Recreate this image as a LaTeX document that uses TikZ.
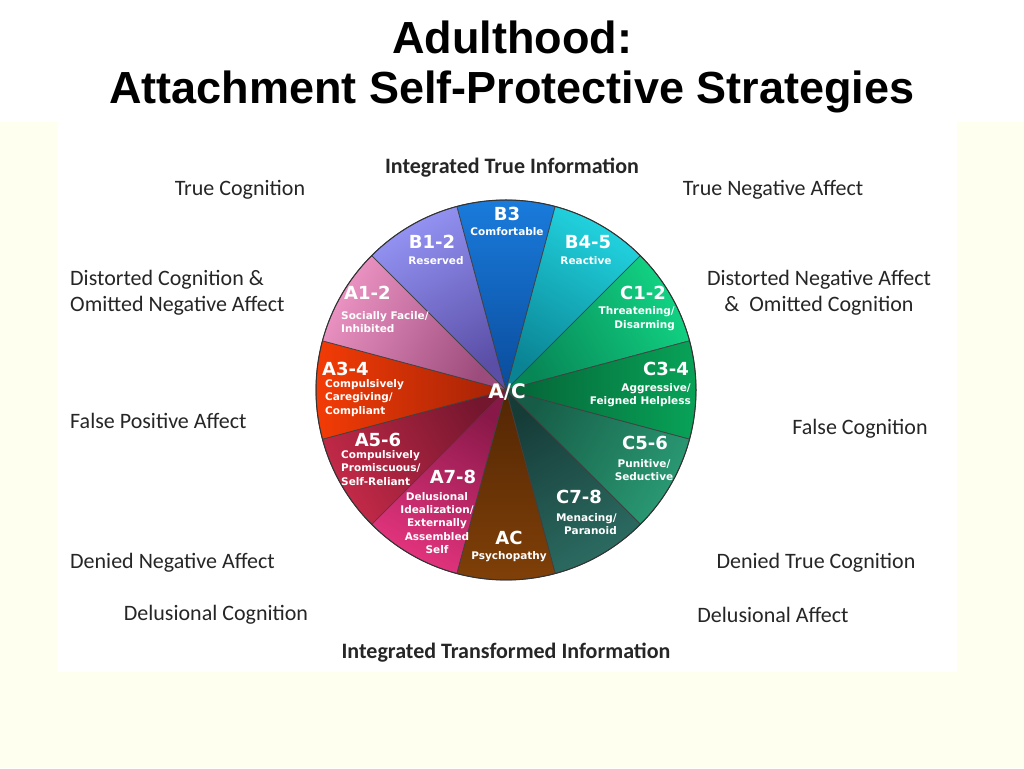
\documentclass[tikz,border=0pt]{standalone}
\usepackage{fontspec}
\setmainfont{Carlito}
\newfontfamily\titlefont{Liberation Sans}
\newfontfamily\piefont{DejaVu Sans}

\definecolor{cream}{HTML}{FFFFF0}
\definecolor{txtgray}{HTML}{262626}
\definecolor{bthreerim}{HTML}{1A7CDC}
\definecolor{bthreemid}{HTML}{0A4C9C}
\definecolor{bfourrim}{HTML}{22D4E0}
\definecolor{bfourmid}{HTML}{0A8494}
\definecolor{conerim}{HTML}{12D484}
\definecolor{conemid}{HTML}{078656}
\definecolor{cthreerim}{HTML}{08A458}
\definecolor{cthreemid}{HTML}{056236}
\definecolor{cfiverim}{HTML}{2A9A74}
\definecolor{cfivemid}{HTML}{165C46}
\definecolor{csevenrim}{HTML}{2C6C62}
\definecolor{csevenmid}{HTML}{163C38}
\definecolor{acrim}{HTML}{804008}
\definecolor{acmid}{HTML}{522604}
\definecolor{asevenrim}{HTML}{E4347E}
\definecolor{asevenmid}{HTML}{881848}
\definecolor{afiverim}{HTML}{C42A48}
\definecolor{afivemid}{HTML}{74162E}
\definecolor{athreerim}{HTML}{F43C06}
\definecolor{athreemid}{HTML}{A22206}
\definecolor{aonerim}{HTML}{EC94C4}
\definecolor{aonemid}{HTML}{9C4C7C}
\definecolor{bonerim}{HTML}{9494F4}
\definecolor{bonemid}{HTML}{5A4EA6}

\begin{document}
\begin{tikzpicture}[x=1pt, y=1pt,
  outer/.style={inner sep=0pt, text=txtgray, font=\fontsize{22}{26}\selectfont},
  bigname/.style={inner sep=0pt, text=white, font=\piefont\bfseries\fontsize{18}{18}\selectfont},
  smalltext/.style={inner sep=0pt, text=white, font=\piefont\bfseries\fontsize{10.5}{13.3}\selectfont},
  wedge/.style={draw=black!75, line width=0.7pt}]

\useasboundingbox (0,0) rectangle (1024,768);
\fill[cream] (0,0) rectangle (1024,646);
\fill[white] (58,96) rectangle (957,646);

\node[inner sep=0pt, font=\titlefont\bfseries\fontsize{45}{55}\selectfont] (title1) at (512,731) {Adulthood:};
\node[inner sep=0pt, font=\titlefont\bfseries\fontsize{45}{55}\selectfont] (title2) at (512,676) {Attachment Self-Protective Strategies};

\coordinate (c) at (506,378);

\shade[wedge, top color=bthreerim, bottom color=bthreemid, shading angle=0] (c) -- ++(75:190) arc[start angle=75, end angle=105, radius=190pt] -- cycle;
\shade[wedge, top color=bfourrim, bottom color=bfourmid, shading angle=-30] (c) -- ++(45:190) arc[start angle=45, end angle=75, radius=190pt] -- cycle;
\shade[wedge, top color=conerim, bottom color=conemid, shading angle=-60] (c) -- ++(15:190) arc[start angle=15, end angle=45, radius=190pt] -- cycle;
\shade[wedge, top color=cthreerim, bottom color=cthreemid, shading angle=-90] (c) -- ++(-15:190) arc[start angle=-15, end angle=15, radius=190pt] -- cycle;
\shade[wedge, top color=cfiverim, bottom color=cfivemid, shading angle=-120] (c) -- ++(-45:190) arc[start angle=-45, end angle=-15, radius=190pt] -- cycle;
\shade[wedge, top color=csevenrim, bottom color=csevenmid, shading angle=-150] (c) -- ++(-75:190) arc[start angle=-75, end angle=-45, radius=190pt] -- cycle;
\shade[wedge, top color=acrim, bottom color=acmid, shading angle=180] (c) -- ++(-105:190) arc[start angle=-105, end angle=-75, radius=190pt] -- cycle;
\shade[wedge, top color=asevenrim, bottom color=asevenmid, shading angle=150] (c) -- ++(225:190) arc[start angle=225, end angle=255, radius=190pt] -- cycle;
\shade[wedge, top color=afiverim, bottom color=afivemid, shading angle=120] (c) -- ++(195:190) arc[start angle=195, end angle=225, radius=190pt] -- cycle;
\shade[wedge, top color=athreerim, bottom color=athreemid, shading angle=90] (c) -- ++(165:190) arc[start angle=165, end angle=195, radius=190pt] -- cycle;
\shade[wedge, top color=aonerim, bottom color=aonemid, shading angle=60] (c) -- ++(135:190) arc[start angle=135, end angle=165, radius=190pt] -- cycle;
\shade[wedge, top color=bonerim, bottom color=bonemid, shading angle=30] (c) -- ++(105:190) arc[start angle=105, end angle=135, radius=190pt] -- cycle;
\draw[black!80, line width=1pt] (c) circle[radius=190pt];

\node[bigname] (b3) at (507,554) {B3};
\node[smalltext] (b3t) at (507,536) {Comfortable};
\node[bigname] (b12) at (432,526) {B1-2};
\node[smalltext] (b12t) at (436,507) {Reserved};
\node[bigname] (b45) at (588,526) {B4-5};
\node[smalltext] (b45t) at (586,507) {Reactive};
\node[bigname, anchor=west] (a12) at (344,475) {A1-2};
\node[smalltext, anchor=west, align=left] (a12t) at (341,446) {Socially Facile/\\Inhibited};
\node[bigname, anchor=east] (c12) at (666,475) {C1-2};
\node[smalltext, anchor=east, align=right] (c12t) at (675,449.5) {Threatening/\\Disarming};
\node[bigname, anchor=west] (a34) at (322,399) {A3-4};
\node[smalltext, anchor=west, align=left] (a34t) at (325,370) {Compulsively\\Caregiving/\\Compliant};
\node[bigname, anchor=east] (c34) at (689,399) {C3-4};
\node[smalltext, anchor=east, align=right] (c34t) at (691,373) {Aggressive/\\Feigned Helpless};
\node[bigname, font=\piefont\bfseries\fontsize{20}{20}\selectfont] (ac0) at (507,376) {A/C};
\node[bigname] (a56) at (378,328) {A5-6};
\node[smalltext, anchor=west, align=left] (a56t) at (341,300) {Compulsively\\Promiscuous/\\Self-Reliant};
\node[bigname] (c56) at (645,325) {C5-6};
\node[smalltext, align=center] (c56t) at (644,298) {Punitive/\\Seductive};
\node[bigname] (a78) at (453,291) {A7-8};
\node[smalltext, align=center] (a78t) at (437,245) {Delusional\\Idealization/\\Externally\\Assembled\\Self};
\node[bigname] (c78) at (579,271) {C7-8};
\node[smalltext, anchor=east, align=right] (c78t) at (617,244) {Menacing/\\Paranoid};
\node[bigname] (acx) at (509,230) {AC};
\node[smalltext] (acxt) at (509,211) {Psychopathy};

\node[outer, font=\bfseries\fontsize{22}{26}\selectfont] (iti) at (512,600) {Integrated True Information};
\node[outer] (tc) at (240,578) {True Cognition};
\node[outer] (tna) at (773,578) {True Negative Affect};
\node[outer, anchor=west, align=left] (dc) at (70,475) {Distorted Cognition \&\\Omitted Negative Affect};
\node[outer, align=center] (dna) at (819,475) {Distorted Negative Affect\\\&~~Omitted Cognition};
\node[outer, anchor=west] (fpa) at (70,347) {False Positive Affect};
\node[outer] (fc) at (860,339) {False Cognition};
\node[outer, anchor=west] (dneg) at (70,205) {Denied Negative Affect};
\node[outer] (dtc) at (816,205) {Denied True Cognition};
\node[outer] (delc) at (216,153) {Delusional Cognition};
\node[outer] (dela) at (773,153) {Delusional Affect};
\node[outer, font=\bfseries\fontsize{22}{26}\selectfont] (itt) at (506,115) {Integrated Transformed Information};

\end{tikzpicture}
\end{document}
